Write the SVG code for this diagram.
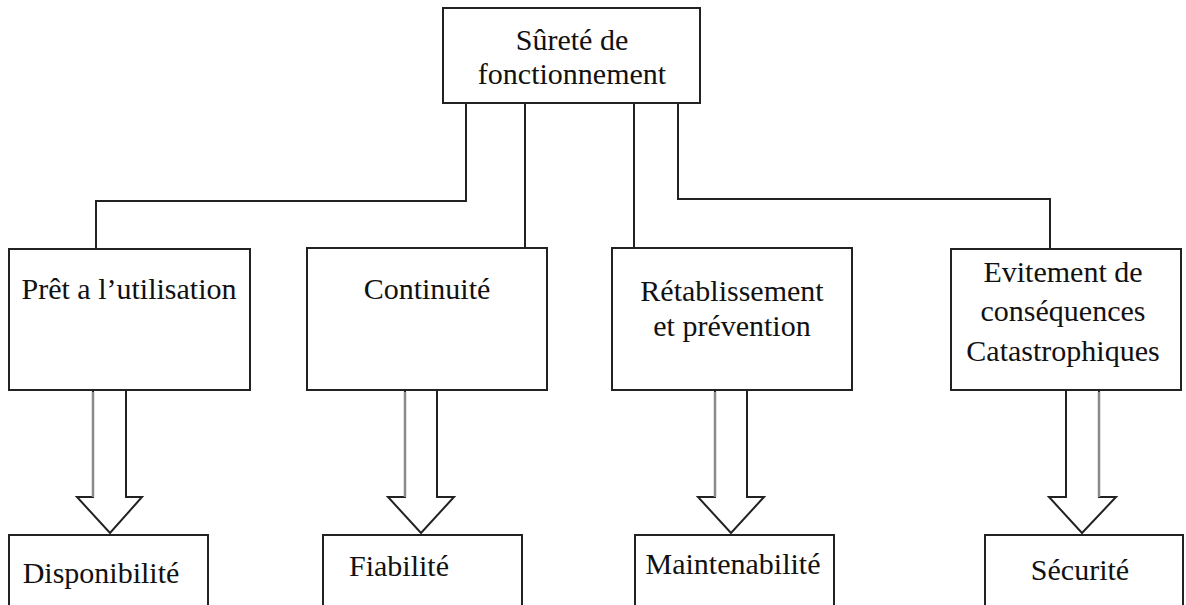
<svg xmlns="http://www.w3.org/2000/svg" width="1186" height="605" viewBox="0 0 1186 605">
<style>
.box{fill:#fff;stroke:#222;stroke-width:2}
.conn{fill:none;stroke:#222;stroke-width:2}
.arr{fill:#fff;stroke:#222;stroke-width:2;stroke-linejoin:miter}
.shade{stroke:#8a8a8a;stroke-width:2.5}
text{font-family:"Liberation Serif","Times New Roman",serif;font-size:30px;fill:#111;text-anchor:middle}
</style>
<rect width="1186" height="605" fill="#fff"/>
<g id="connectors">
<polyline class="conn" points="466,103 466,201 96,201 96,249"/>
<line class="conn" x1="525" y1="103" x2="525" y2="248"/>
<line class="conn" x1="634" y1="103" x2="634" y2="248"/>
<polyline class="conn" points="678,103 678,199 1050,199 1050,249"/>
<g id="arrow1"><path class="arr" d="M93,390 V497 H77 L110,533 L142,497 H126 V390"/><line class="shade" x1="93" y1="392" x2="93" y2="497"/></g>
<g id="arrow2"><path class="arr" d="M405,390 V497 H388 L421,533 L454,497 H437 V390"/><line class="shade" x1="405" y1="392" x2="405" y2="497"/></g>
<g id="arrow3"><path class="arr" d="M715,390 V497 H698 L731,533 L764,497 H747 V390"/><line class="shade" x1="715" y1="392" x2="715" y2="497"/></g>
<g id="arrow4"><path class="arr" d="M1066,390 V497 H1049 L1082,533 L1116,497 H1099 V390"/><line class="shade" x1="1099" y1="392" x2="1099" y2="497"/></g>
</g>
<g id="root"><rect class="box" x="443" y="8" width="257" height="95"/><text x="572" y="50">Sûreté de</text><text x="572" y="84">fonctionnement</text></g>
<g id="pret"><rect class="box" x="9" y="249" width="241" height="141"/><text x="129" y="299">Prêt a l’utilisation</text></g>
<g id="continuite"><rect class="box" x="307" y="248" width="240" height="142"/><text x="427" y="299">Continuité</text></g>
<g id="retablissement"><rect class="box" x="612" y="248" width="240" height="142"/><text x="732" y="301">Rétablissement</text><text x="732" y="336">et prévention</text></g>
<g id="evitement"><rect class="box" x="951" y="249" width="230" height="141"/><text x="1063" y="282">Evitement de</text><text x="1063" y="321">conséquences</text><text x="1063" y="361">Catastrophiques</text></g>
<g id="disponibilite"><rect class="box" x="9" y="535" width="199" height="100"/><text x="101" y="583">Disponibilité</text></g>
<g id="fiabilite"><rect class="box" x="323" y="535" width="199" height="100"/><text x="399" y="576">Fiabilité</text></g>
<g id="maintenabilite"><rect class="box" x="635" y="535" width="199" height="100"/><text x="733" y="574">Maintenabilité</text></g>
<g id="securite"><rect class="box" x="985" y="535" width="198" height="100"/><text x="1080" y="580">Sécurité</text></g>
</svg>
